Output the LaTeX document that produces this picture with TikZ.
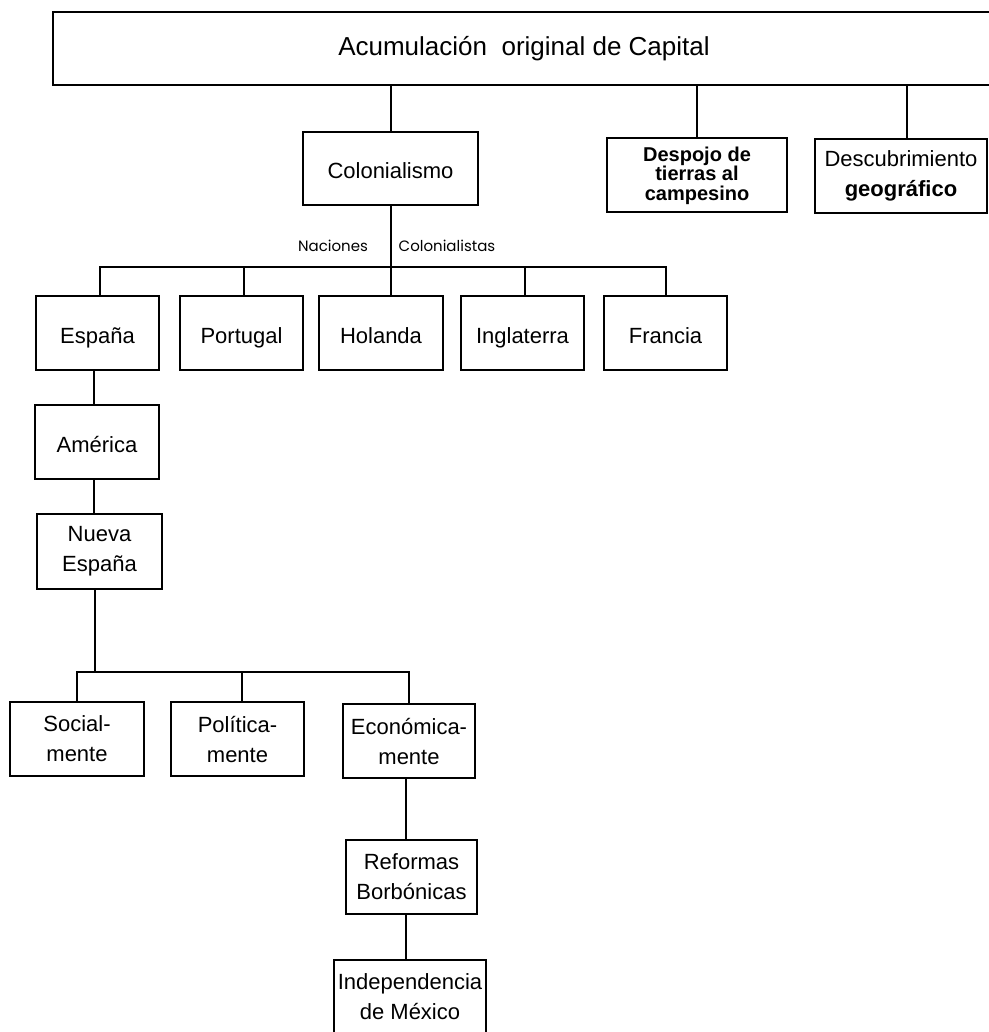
\documentclass[tikz,border=0pt]{standalone}
\usepackage{fontspec}
\setmainfont{Liberation Sans}
\newfontfamily\labfont{Poppins}
\usetikzlibrary{positioning}
\tikzset{every picture/.style={line width=2pt}}
\tikzset{box/.style={draw, align=center, inner sep=2pt, minimum height=74,
    font=\fontsize{22}{30}\selectfont},
  oneline/.style={box, text height=24, text depth=4},
  lab/.style={inner sep=0pt, font=\labfont\fontsize{15}{18}\selectfont}}

\begin{document}
\begin{tikzpicture}[x=1pt,y=-1pt]
\fill[white] (0,0) rectangle (988,1032);
\useasboundingbox (0,0) rectangle (988,1032);
% top level
\node[box, minimum width=942, minimum height=73, font=\fontsize{26}{30}\selectfont] (acum) at (524,48.5) {Acumulación\ \ original de Capital};
\node[oneline, minimum width=175, minimum height=73] (colon) at (390.5,168.5) {Colonialismo};
\node[box, minimum width=180, font=\bfseries\fontsize{20}{19.5}\selectfont] (desp) at (697,175.5) {Despojo de\\tierras al\\campesino};
\node[box, minimum width=172] (desc) at (901,176) {Descubrimiento\\\textbf{geográfico}};
\draw (acum.south -| colon.north) -- (colon.north);
\draw (acum.south -| desp.north) -- (desp.north);
\coordinate (dtop) at ([xshift=6]desc.north);
\draw (acum.south -| dtop) -- (dtop);
% naciones colonialistas
\node[oneline, minimum width=123] (esp) at (97.5,333) {España};
\node[oneline, minimum width=123] (por) at (241.5,333) {Portugal};
\node[oneline, minimum width=124] (hol) at (381,333) {Holanda};
\node[oneline, minimum width=123] (ing) at (522.5,333) {Inglaterra};
\node[oneline, minimum width=123] (fra) at (665.5,333) {Francia};
\coordinate (bus1) at (0,267);
\draw (colon.south) -- (colon.south |- hol.north);
\draw ([xshift=2]esp.north) |- (bus1 -| fra.north) -- (fra.north);
\foreach \n in {por,ing} \draw ([xshift=2]\n.north) -- ([xshift=2]\n.north |- bus1);
\node[lab] (nac) at (333,246) {Naciones};
\node[lab] (colo) at (447,246) {Colonialistas};
% espana
\node[oneline, minimum width=124] (ame) at (97,442) {América};
\node[box, minimum width=125, minimum height=75] (nes) at (99.5,551.5) {Nueva\\España};
\draw ([xshift=-3]ame.north) -- ([xshift=-3]ame.north |- esp.south);
\draw ([xshift=-6]nes.north) -- ([xshift=-6]nes.north |- ame.south);
\node[box, minimum width=134] (soc) at (77,739) {Social-\\mente};
\node[box, minimum width=133] (pol) at (237.5,739) {Política-\\mente};
\node[box, minimum width=132] (eco) at (409,741) {Económica-\\mente};
\coordinate (bus2) at (0,672);
\draw ([xshift=-5]nes.south) -- ([xshift=-5]nes.south |- bus2);
\draw (soc.north) |- (bus2 -| eco.north) -- (eco.north);
\draw ([xshift=4]pol.north) -- ([xshift=4]pol.north |- bus2);
% reformas
\node[box, minimum width=131] (ref) at (411.5,877) {Reformas\\Borbónicas};
\node[box, minimum width=152] (ind) at (410,997) {Independencia\\de México};
\draw ([xshift=-3]eco.south) -- ([xshift=-3]eco.south |- ref.north);
\draw ([xshift=-4]ind.north) -- ([xshift=-4]ind.north |- ref.south);
\end{tikzpicture}
\end{document}
